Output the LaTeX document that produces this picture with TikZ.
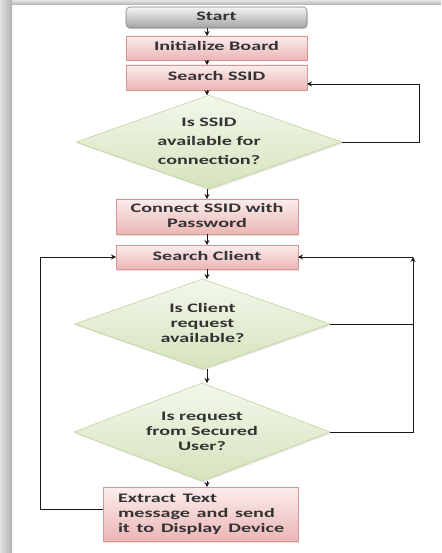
\documentclass[tikz,border=0pt]{standalone}
\usepackage{fontspec}
\setmainfont{Carlito}
\usepackage{graphicx}
\usetikzlibrary{shapes.geometric,arrows.meta,shadows}
\definecolor{txt}{HTML}{333333}
\definecolor{boxtop}{HTML}{FBEDED}
\definecolor{boxbot}{HTML}{EBB6B5}
\definecolor{boxline}{HTML}{D79593}
\definecolor{gtop}{HTML}{F4F4F4}
\definecolor{gbot}{HTML}{A3A3A3}
\definecolor{gline}{HTML}{7F7F7F}
\definecolor{dtop}{HTML}{F3F7EC}
\definecolor{dbot}{HTML}{D6E3BC}
\definecolor{dline}{HTML}{C2D69B}
\newcommand{\lbl}[2][c]{\scalebox{1.55}[1]{\begin{tabular}{@{}#1@{}}#2\end{tabular}}}
\begin{document}
\begin{tikzpicture}[x=1pt,y=-1pt,
  conn/.style={draw=black!90, line width=0.8pt},
  arr/.style={conn, -{Stealth[length=5pt,width=5pt]}},
  base/.style={inner sep=0pt, outer sep=0pt, line width=0.6pt, text=txt,
    font=\fontsize{13}{15}\selectfont\bfseries,
    drop shadow={opacity=0.2, shadow xshift=1pt, shadow yshift=-1.5pt}},
  procbox/.style={base, rectangle, draw=boxline, top color=boxtop, bottom color=boxbot},
  startbox/.style={base, rectangle, rounded corners=4pt, draw=gline, top color=gtop, bottom color=gbot},
  decision/.style={base, diamond, draw=dline, top color=dtop, bottom color=dbot}
]
\useasboundingbox (0,0) rectangle (441,553);
\fill[white] (0,0) rectangle (441,553);
\shade[left color=gray!22, right color=gray!62] (0,0) rectangle (12,553);
\shade[top color=gray!22, bottom color=gray!62] (12,0) rectangle (441,5);

\coordinate (ax) at (207,0);
\coordinate (r1) at (419,84);
\coordinate (r2) at (413,0);
\coordinate (l1) at (40,0);

\node[startbox, minimum width=181pt, minimum height=21pt] (start) at (216.5,17.5) {\lbl{Start}};
\node[procbox, minimum width=181pt, minimum height=24pt] (init) at (216.5,48) {\lbl{Initialize Board}};
\node[procbox, minimum width=181pt, minimum height=25pt] (ssid) at (216.5,77.5) {\lbl{Search SSID}};
\node[decision, minimum width=244pt, minimum height=86pt, aspect=2.84] (d1) at (209,142)
  {\def\arraystretch{1.27}\lbl{Is SSID\\available for\\connection?}};
\node[procbox, minimum width=182pt, minimum height=35pt] (conn) at (207,216.5) {\lbl{Connect SSID with\\Password}};
\node[procbox, minimum width=182pt, minimum height=24pt] (sc) at (207,257) {\lbl{Search Client}};
\node[decision, minimum width=255pt, minimum height=90pt, aspect=2.83] (d2) at (202.5,324)
  {\lbl{Is Client\\request\\available?}};
\node[decision, minimum width=256pt, minimum height=98pt, aspect=2.61] (d3) at (202,432)
  {\lbl{Is request\\from Secured\\User?}};
\node[procbox, minimum width=195pt, minimum height=54pt, text width=165pt, inner xsep=15pt, align=left] (ex) at (200.5,514)
  {\lbl[l]{Extract Text\\message and send\\it to Display Device}};

\draw[arr] (start.south -| ax) -- (init.north -| ax);
\draw[arr] (init.south -| ax) -- (ssid.north -| ax);
\draw[arr] (ssid.south -| ax) -- (d1.north -| ax);
\draw[arr] (d1.south -| ax) -- (conn.north -| ax);
\draw[arr] (conn.south -| ax) -- (sc.north -| ax);
\draw[arr] (sc.south -| ax) -- (d2.north -| ax);
\draw[arr] (d2.south -| ax) -- (d3.north -| ax);
\draw[arr] (d3.south -| ax) -- (ex.north -| ax);

\draw[arr] (d1.east) -| (r1) -- (r1 -| ssid.east);
\draw[conn] (d2.east) -- (d2.east -| r2);
\draw[arr] (d3.east) -| (sc.east -| r2);
\draw[arr] (sc.east -| r2) -- (sc.east);
\draw[arr] ([yshift=5pt]ex.west) -| (sc.west -| l1) -- (sc.west);
\end{tikzpicture}
\end{document}
